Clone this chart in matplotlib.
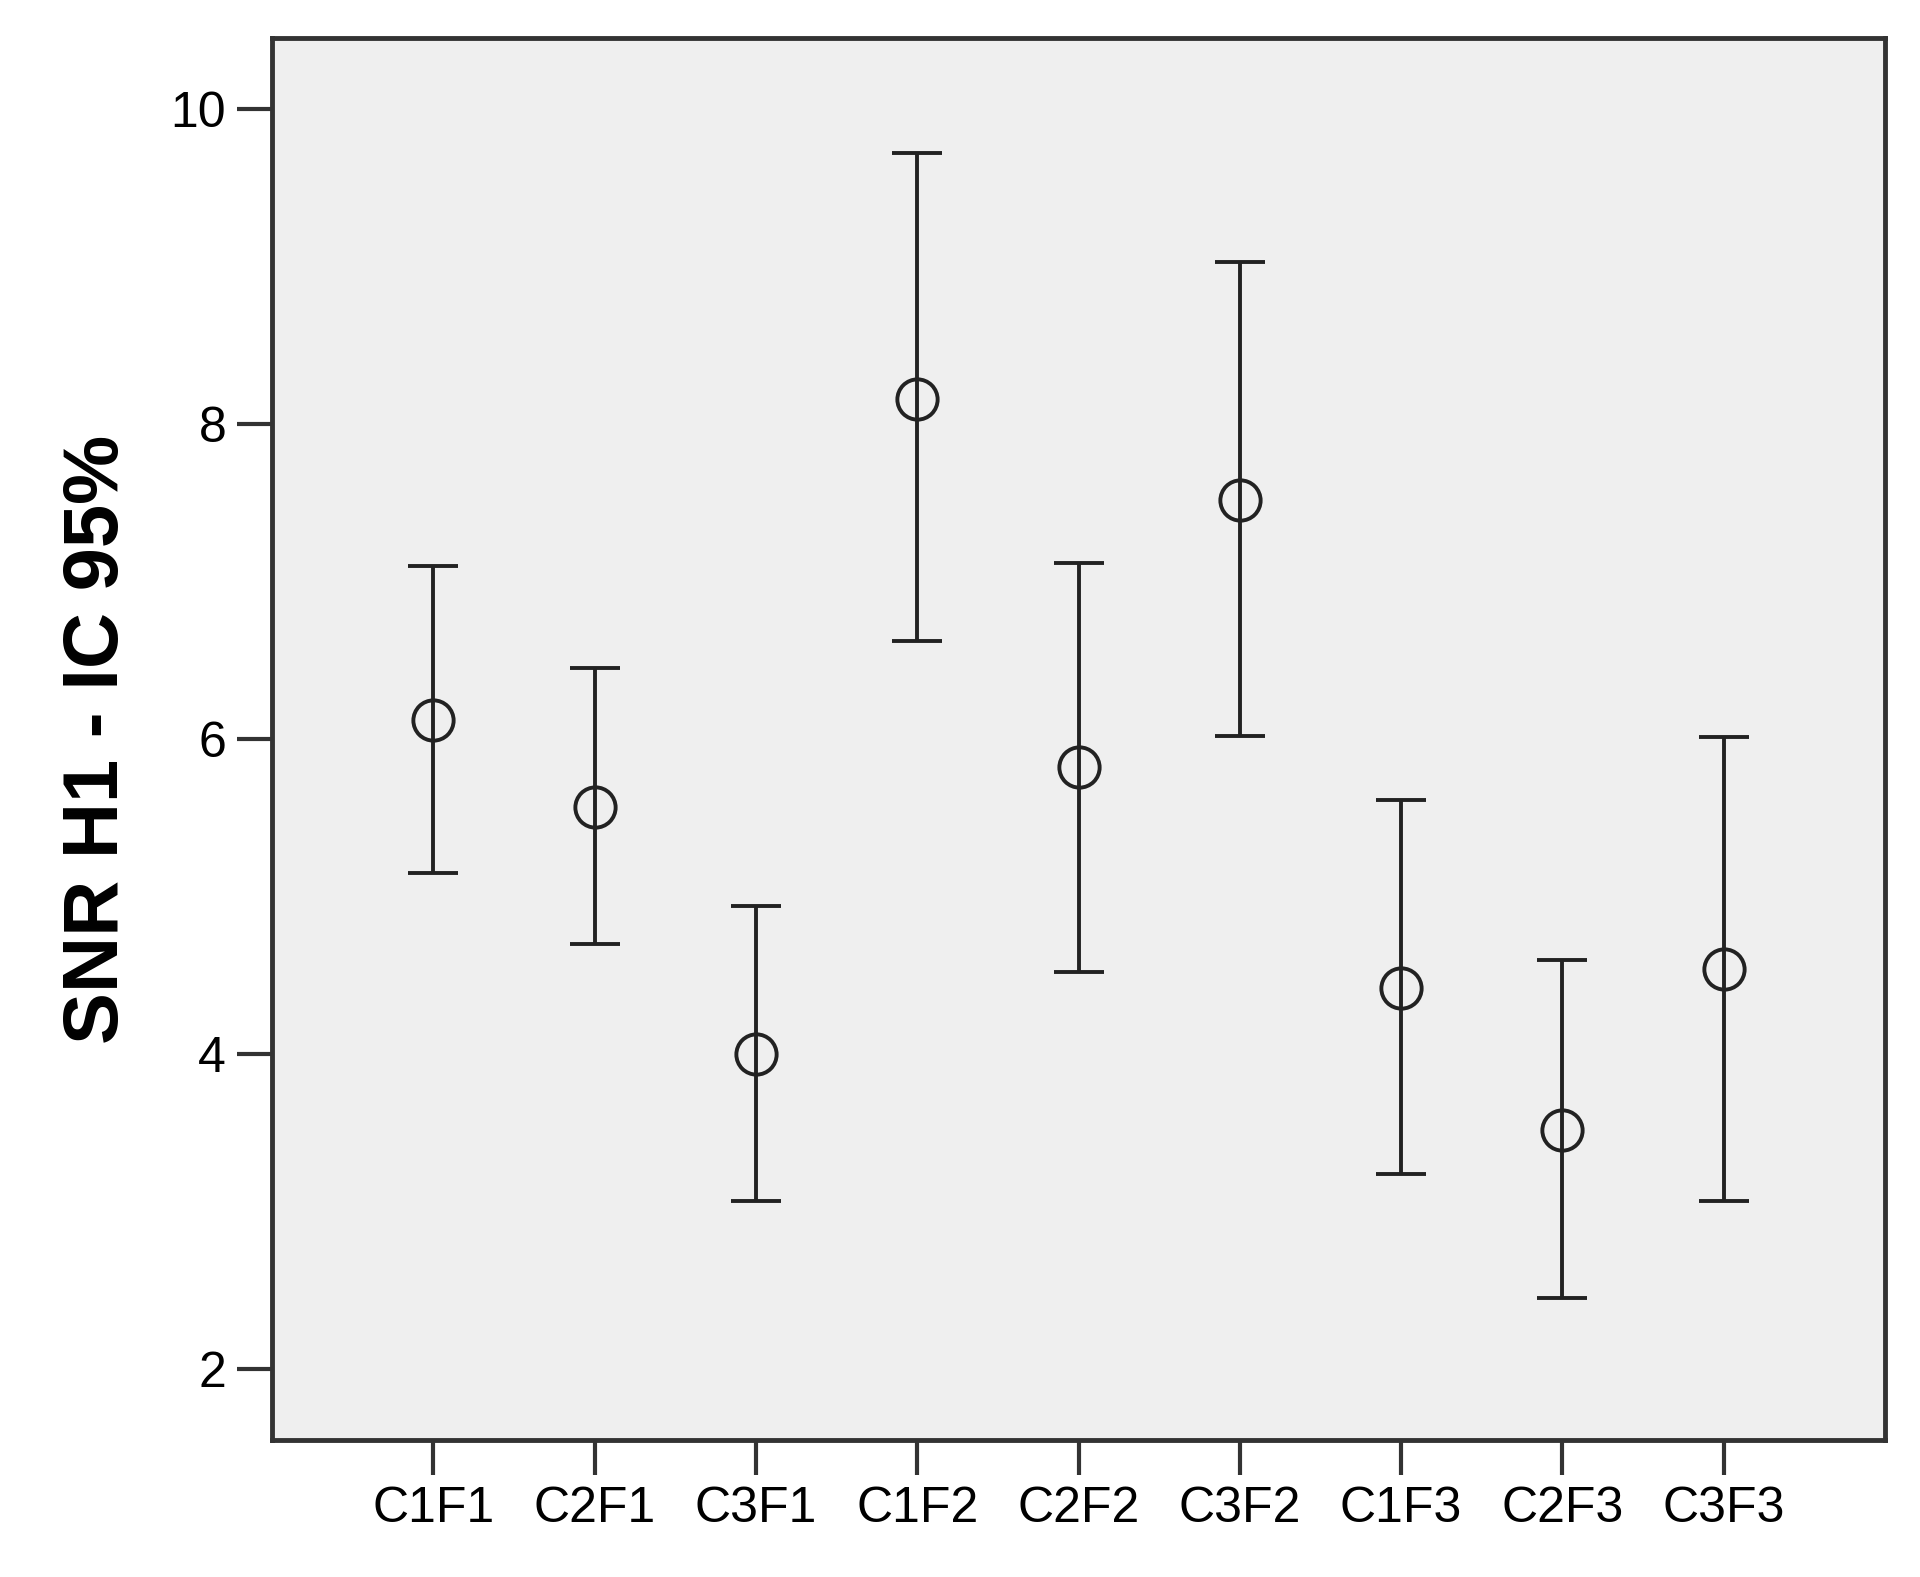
import matplotlib
matplotlib.use("Agg")
import matplotlib.pyplot as plt
import numpy as np

# -----------------------------
# Data
# -----------------------------
groups = ["C1F1", "C2F1", "C3F1", "C1F2", "C2F2", "C3F2", "C1F3", "C2F3", "C3F3"]
means = [6.12, 5.57, 4.00, 8.16, 5.82, 7.52, 4.42, 3.52, 4.54]
ci_low = [5.15, 4.70, 3.07, 6.62, 4.52, 6.02, 3.24, 2.45, 3.07]
ci_high = [7.10, 6.45, 4.94, 9.72, 7.12, 9.03, 5.61, 4.60, 6.01]
yticks = [2, 4, 6, 8, 10]

plt.rcParams["font.family"] = ["Liberation Sans", "DejaVu Sans"]

fig = plt.figure(figsize=(19.2, 15.77), dpi=100)
ax = fig.add_axes([0.1417, 0.0869, 0.8401, 0.889])
ax.set_facecolor("#efefef")

x = np.arange(len(groups))
means = np.array(means)
err = [means - np.array(ci_low), np.array(ci_high) - means]

ax.errorbar(x, means, yerr=err, fmt="o", markersize=29, markerfacecolor="none",
            markeredgecolor="#222222", markeredgewidth=2.8, ecolor="#222222",
            elinewidth=2.8, capsize=18, capthick=2.8)

ax.set_xlim(-1, len(groups))
ax.set_ylim(1.55, 10.45)
ax.set_xticks(x)
ax.set_xticklabels(groups)
ax.set_yticks(yticks)

ax.tick_params(axis="both", length=25, width=3, color="#333333",
               labelsize=36, pad=8)
for sp in ax.spines.values():
    sp.set_linewidth(3.5)
    sp.set_color("#333333")

ax.set_ylabel("SNR H1 - IC 95%", fontsize=56, fontweight="bold", labelpad=26)

fig.savefig("out.png", dpi=100)
